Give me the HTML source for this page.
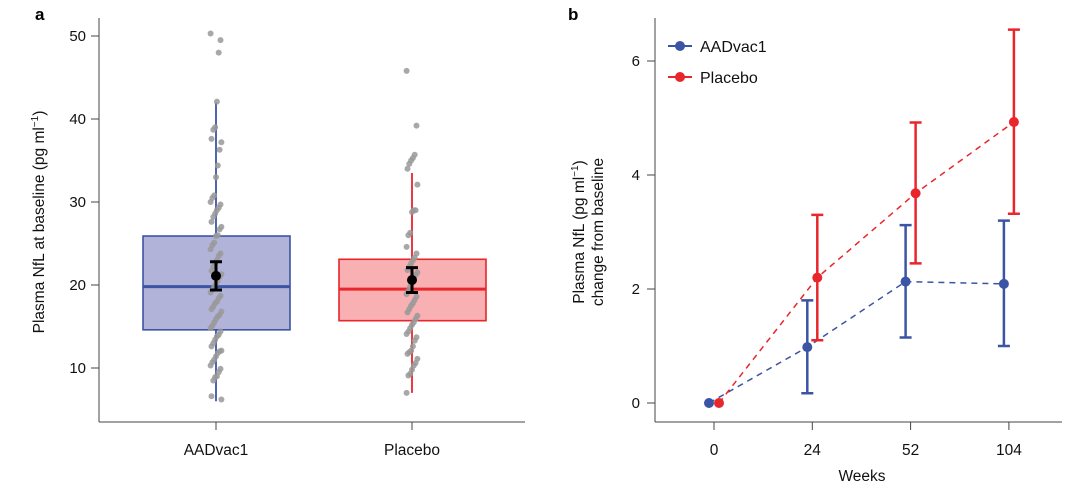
<!DOCTYPE html>
<html><head><meta charset="utf-8"><style>
body{margin:0;background:#fff;}
svg{display:block;font-family:"Liberation Sans",sans-serif;}
</style></head><body>
<svg width="1080" height="492" viewBox="0 0 1080 492">
<g id="pa"></g>
<g id="pb"></g>
</svg>
<script>
// Panel a data
const groupsA = ["AADvac1","Placebo"];
const boxQ1 = [14.6, 15.7];
const boxMedian = [19.8, 19.5];
const boxQ3 = [25.9, 23.1];
const whiskLo = [6.0, 7.0];
const whiskHi = [42.0, 33.5];
const meanA = [21.1, 20.6];
const meanLo = [19.4, 19.1];
const meanHi = [22.8, 22.1];
const ticksA = [10,20,30,40,50];
const ptsAAD = [50.3,49.5,48,42.1,39,38.7,37.6,37.2,36.3,34.4,33,30.8,30.5,30,29.7,29.3,29,28.6,28.2,27.6,27,26.7,26,25.9,25.1,24.8,24.3,23.8,23.5,23,22.6,22.2,21.7,21.3,21,20.5,20.2,19.8,19.4,19.1,18.7,18.4,18,17.8,17.4,17.1,16.8,16.4,16.2,15.9,15.5,15.1,14.8,14.4,14,13.8,13.4,13,12.6,12.1,12,11.8,11.4,11,10.7,10.3,9.9,9.5,9,8.9,8.5,6.6,6.2];
const ptsPla = [45.8,39.2,35.7,35.3,35,34.6,34,32.1,29,29,28.8,26.3,26,24.6,23.8,23.3,23,22.6,22.2,21.8,21.5,21.2,20.8,20.2,19.8,19.3,18.9,18.6,18.2,17.8,17.5,17.1,16.7,16.3,15.9,15.5,15.2,14.8,14.4,14.1,13.7,13.3,12.6,12.1,11.9,11.7,11.1,10.6,10.3,9.8,9.3,9.1,7.0];

// Panel b data
const weekLabels = ["0","24","52","104"];
const aadMean = [0, 0.98, 2.13, 2.09];
const aadLo = [0, 0.17, 1.15, 1.0];
const aadHi = [0, 1.8, 3.12, 3.2];
const plaMean = [0, 2.2, 3.68, 4.93];
const plaLo = [0, 1.1, 2.45, 3.32];
const plaHi = [0, 3.3, 4.92, 6.55];
const ticksB = [0,2,4,6];

const NS="http://www.w3.org/2000/svg";
function mk(p,t,a,txt){const e=document.createElementNS(NS,t);for(const k in a)e.setAttribute(k,a[k]);if(txt!==undefined)e.textContent=txt;p.appendChild(e);return e;}
const BLUE="#3b54a4", RED="#e8262b";

// ---- Panel A ----
const pa=document.getElementById('pa');
const yA=v=>285-(v-20)*8.3;
const xA=i=>216+i*196;
let t=mk(pa,'text',{x:35,y:20,'font-size':17,'font-weight':'bold'},'a');

let l=mk(pa,'line',{x1:99,y1:18,x2:99,y2:422,stroke:'#444','stroke-width':1});

l=mk(pa,'line',{x1:99,y1:422,x2:525,y2:422,stroke:'#444','stroke-width':1});

ticksA.forEach(v=>{
  let tk=mk(pa,'line',{x1:91,y1:yA(v),x2:99,y2:yA(v),stroke:'#444'});
  
  let tl=mk(pa,'text',{x:86,y:yA(v)+5,'text-anchor':'end','font-size':15,fill:'#111'},v);
  
});
t=mk(pa,'text',{transform:'translate(44,222) rotate(-90)','text-anchor':'middle','font-size':15.5,fill:'#111'});

t.innerHTML='Plasma NfL at baseline (pg ml<tspan dy="-6" font-size="10">−1</tspan><tspan dy="6">)</tspan>';
groupsA.forEach((g,i)=>{
  const c=i?RED:BLUE, f=i?'#f8b0b2':'#b2b3d9', x=xA(i);
  let tk=mk(pa,'line',{x1:x,y1:422,x2:x,y2:430,stroke:'#444'});
  
  let tl=mk(pa,'text',{x:x,y:455,'text-anchor':'middle','font-size':15.5,fill:'#111'},g);
  
  let w=mk(pa,'line',{x1:x,y1:yA(whiskLo[i]),x2:x,y2:yA(whiskHi[i]),stroke:c,'stroke-width':1.8});
  
  let b=mk(pa,'rect',{x:x-73,y:yA(boxQ3[i]),width:147,height:yA(boxQ1[i])-yA(boxQ3[i]),fill:f,stroke:c,'stroke-width':1.6});
  
  let m=mk(pa,'line',{x1:x-73,y1:yA(boxMedian[i]),x2:x+74,y2:yA(boxMedian[i]),stroke:c,'stroke-width':3});
  
  const pts=i?ptsPla:ptsAAD;
  pts.forEach((v,k)=>{
    const j=((k*37)%13-6)*0.9;
    let p=mk(pa,'circle',{cx:x+j,cy:yA(v),r:3,fill:'#999','fill-opacity':0.85});
    
  });
  let e=mk(pa,'path',{d:`M${x},${yA(meanLo[i])}V${yA(meanHi[i])}M${x-6},${yA(meanLo[i])}H${x+6}M${x-6},${yA(meanHi[i])}H${x+6}`,stroke:'#000','stroke-width':3,fill:'none'});
  
  let d=mk(pa,'circle',{cx:x,cy:yA(meanA[i]),r:5,fill:'#000'});
  
});

// ---- Panel B ----
const pb=document.getElementById('pb');
const yB=v=>403-v*57;
const xB=i=>714+i*98.3;
t=mk(pb,'text',{x:568,y:20,'font-size':17,'font-weight':'bold'},'b');

l=mk(pb,'line',{x1:655,y1:18,x2:655,y2:422,stroke:'#444'});

l=mk(pb,'line',{x1:655,y1:422,x2:1062,y2:422,stroke:'#444'});

ticksB.forEach(v=>{
  let tk=mk(pb,'line',{x1:647,y1:yB(v),x2:655,y2:yB(v),stroke:'#444'});
  
  let tl=mk(pb,'text',{x:640,y:yB(v)+5,'text-anchor':'end','font-size':15,fill:'#111'},v);
  
});
weekLabels.forEach((w,i)=>{
  let tk=mk(pb,'line',{x1:xB(i),y1:422,x2:xB(i),y2:430,stroke:'#444'});
  
  let tl=mk(pb,'text',{x:xB(i),y:455,'text-anchor':'middle','font-size':15.5,fill:'#111'},w);
  
});
t=mk(pb,'text',{x:862,y:481,'text-anchor':'middle','font-size':15.5,fill:'#111'},'Weeks');

t=mk(pb,'text',{transform:'translate(584,232) rotate(-90)','text-anchor':'middle','font-size':15.5,fill:'#111'});

t.innerHTML='Plasma NfL (pg ml<tspan dy="-6" font-size="10">−1</tspan><tspan dy="6">)</tspan>';
t=mk(pb,'text',{transform:'translate(603,232) rotate(-90)','text-anchor':'middle','font-size':15.5,fill:'#111'},'change from baseline');

function series(name,mean,lo,hi,c,off){
  const g=mk(pb,'g',{});
  
  const pts=mean.map((v,i)=>`${xB(i)+off},${yB(v)}`).join(' ');
  let pl=mk(g,'polyline',{points:pts,fill:'none',stroke:c,'stroke-width':1.5,'stroke-dasharray':'6,5'});
  
  mean.forEach((v,i)=>{
    const x=xB(i)+off;
    if(hi[i]>lo[i]){
      let e=mk(g,'path',{d:`M${x},${yB(lo[i])}V${yB(hi[i])}M${x-6},${yB(lo[i])}H${x+6}M${x-6},${yB(hi[i])}H${x+6}`,stroke:c,'stroke-width':2.5,fill:'none'});
      
    }
    let p=mk(g,'circle',{cx:x,cy:yB(v),r:5,fill:c});
    
  });
}
series('aadvac1',aadMean,aadLo,aadHi,BLUE,-5);
series('placebo',plaMean,plaLo,plaHi,RED,5);
[["AADvac1",BLUE,46],["Placebo",RED,77]].forEach(([n,c,y])=>{
  const g=mk(pb,'g',{});
  
  mk(g,'line',{x1:668,y1:y,x2:692,y2:y,stroke:c,'stroke-width':2});
  mk(g,'circle',{cx:680,cy:y,r:5,fill:c});
  mk(g,'text',{x:700,y:y+6,'font-size':16,fill:'#111'},n);
});
</script>
</body></html>
